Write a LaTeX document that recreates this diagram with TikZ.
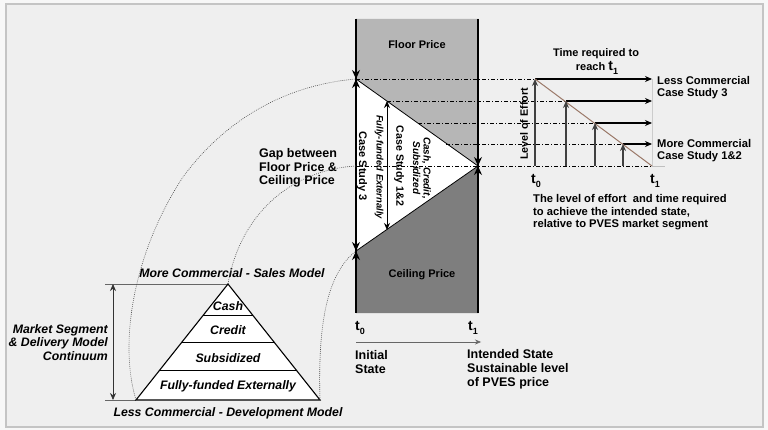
\documentclass[tikz,border=0pt]{standalone}
\usepackage{fontspec}
\setmainfont{Liberation Sans}
\usetikzlibrary{arrows.meta,calc}
\definecolor{bgc}{HTML}{EFEFEF}
\definecolor{outc}{HTML}{F7F7F7}
\definecolor{framec}{HTML}{C4C4C4}
\definecolor{floorc}{HTML}{B6B6B6}
\definecolor{ceilc}{HTML}{7E7E7E}
\definecolor{brownc}{HTML}{9A7868}
\newcommand{\mytsub}[1]{{\fontsize{14}{14}\selectfont t}\raisebox{-0.55ex}{\fontsize{9}{9}\selectfont #1}}
\begin{document}
\begin{tikzpicture}[x=1pt,y=-1pt,
  txt/.style={font=\fontsize{11}{13}\selectfont\bfseries, inner sep=0pt, align=left},
  bigtxt/.style={font=\fontsize{12.5}{14}\selectfont\bfseries, inner sep=0pt, align=left},
  ital/.style={font=\fontsize{12.3}{13.3}\selectfont\bfseries\itshape, inner sep=0pt},
  dashdot/.style={line width=0.6pt, dash pattern=on 4pt off 2pt on 1pt off 2pt},
  dotc/.style={line width=0.6pt, black!70, dash pattern=on 0.8pt off 1.2pt},
  arr/.style={-{Stealth[length=7pt,width=6pt]}},
  bigarr/.style={-{Stealth[length=9pt,width=8pt]}},
  darr/.style={{Stealth[length=7pt,width=6pt]}-{Stealth[length=7pt,width=6pt]}}
]
\useasboundingbox (0,0) rectangle (768,430);
\fill[outc] (0,0) rectangle (768,430);
\draw[fill=bgc, draw=framec, line width=1.2pt] (6,4) rectangle (763,427);

% column coordinates
\coordinate (TL) at (356,19);
\coordinate (TR) at (478,19);
\coordinate (BL) at (356,313);
\coordinate (BR) at (478,313);
\coordinate (V1) at (356,79);
\coordinate (V2) at (478,166);
\coordinate (V3) at (356,251);
\coordinate (H1) at (387,101);
\coordinate (L1) at (387,230);
\coordinate (H2) at (418,123);
\coordinate (H3) at (446,144);
\coordinate (M0) at (356,166);

\fill[floorc] (TL) -- (TR) -- (V2) -- (V1) -- cycle;
\fill[ceilc] (V3) -- (V2) -- (BR) -- (BL) -- cycle;
\fill[white] (V1) -- (V2) -- (V3) -- cycle;
\draw[line width=0.8pt] (V1) -- (V2) -- (V3);

% right small diagram coordinates
\coordinate (P0) at (535,79);
\coordinate (P1) at (566,101);
\coordinate (P2) at (595,123);
\coordinate (P3) at (623,144);
\coordinate (E0) at (652,79);
\coordinate (E1) at (652,101);
\coordinate (E2) at (652,123);
\coordinate (E3) at (652,144);
\coordinate (E4) at (652,166);
\coordinate (E5) at (665,166);
\coordinate (B0) at (535,166);
\coordinate (B1) at (566,166);
\coordinate (B2) at (595,166);
\coordinate (B3) at (623,166);

\draw[dashdot] (V1) -- (P0);
\draw[dashdot] (H1) -- (P1);
\draw[dashdot] (H2) -- (P2);
\draw[dashdot] (H3) -- (P3);
\draw[dashdot] (M0) -- (E4);
\draw[black!25, line width=0.6pt] (E4) -- (E5);
\draw[black!20, line width=0.6pt] (E0) -- (E4);

\draw[line width=1.6pt] (TL) -- (BL);
\draw[line width=1.6pt] (TR) -- (BR);
\draw[bigarr, line width=1pt] (TL) -- (V1);
\draw[bigarr, line width=1pt] (BL) -- (V3);
\draw[bigarr, line width=1pt] (TR) -- (V2);
\draw[bigarr, line width=1pt] (BR) -- (V2);
\draw[{Stealth[length=9pt,width=8pt]}-{Stealth[length=9pt,width=8pt]}, line width=1pt] (V1) -- (V3);
\draw[darr, line width=0.9pt] (H1) -- (L1);

\draw[arr, line width=1.1pt] (P0) -- (E0);
\draw[arr, line width=1.1pt] (P1) -- (E1);
\draw[arr, line width=1.1pt] (P2) -- (E2);
\draw[arr, line width=1.1pt] (P3) -- (E3);
\draw[brownc, line width=1pt] (P0) -- (E4);
\draw[arr, black!75, line width=1.1pt] (B0) -- (P0);
\draw[arr, black!75, line width=1.1pt] (B1) -- (P1);
\draw[arr, black!75, line width=1.1pt] (B2) -- (P2);
\draw[arr, black!75, line width=1.1pt] (B3) -- (P3);

% column texts
\node[txt] (floor) at (417,45) {Floor Price};
\node[txt] (ceil) at (422,275) {Ceiling Price};
\node[txt, rotate=-90] (cs3) at (362,166) {Case Study 3};
\node[inner sep=0pt, rotate=-90, font=\fontsize{9.4}{10}\selectfont\bfseries\itshape] (ffe) at (379,167) {Fully-funded Externally};
\node[inner sep=0pt, rotate=-90, font=\fontsize{10.6}{12}\selectfont\bfseries] (cs12) at (399,166) {Case Study 1\&2};
\node[inner sep=0pt, rotate=-90, align=center, font=\fontsize{10}{10.5}\selectfont\bfseries\itshape] (ccs) at (422,168) {Cash, Credit,\\Subsidized};

% right texts
\node[txt, align=center] (treq) at (596,54) {Time required to};
\node[txt] (reach) at (597,68) {reach \mytsub{1}};
\node[txt, anchor=west, font=\fontsize{11.2}{12.7}\selectfont\bfseries] (lessc) at (657,87.5) {Less Commercial\\Case Study 3};
\node[txt, anchor=west, font=\fontsize{11.2}{12.7}\selectfont\bfseries] (morec) at (657,150.5) {More Commercial\\Case Study 1\&2};
\node[inner sep=0pt, rotate=90, font=\fontsize{10.7}{12}\selectfont\bfseries] (loe) at (524,124) {Level of Effort};
\node[txt] (rt0) at (536,181) {\mytsub{0}};
\node[txt] (rt1) at (655,181) {\mytsub{1}};
\node[txt, anchor=west, font=\fontsize{11.2}{12.5}\selectfont\bfseries] (desc) at (533,212.5) {The level of effort\ \ and time required\\to achieve the intended state,\\relative to PVES market segment};

% bottom texts
\node[txt] (bt0) at (360,328) {\mytsub{0}};
\node[txt] (bt1) at (473,328) {\mytsub{1}};
\coordinate (AX0) at (356,342);
\coordinate (AX1) at (481,342);
\draw[-{Stealth[length=6pt,width=5pt]}, black!60, line width=0.6pt] (AX0) -- (AX1);
\node[bigtxt, anchor=west] (init) at (355,362) {Initial\\State};
\node[bigtxt, anchor=west] (intend) at (467,369) {Intended State\\Sustainable level\\of PVES price};
\node[bigtxt, anchor=west, font=\fontsize{12.5}{13.7}\selectfont\bfseries] (gap) at (259,168) {Gap between\\Floor Price \&\\Ceiling Price};

% pyramid
\coordinate (A) at (228,284);
\coordinate (PL) at (136,400);
\coordinate (PR) at (320,400);
\coordinate (GT) at (105,284);
\coordinate (GB) at (105,400);
\coordinate (DT) at (113,284);
\coordinate (DB) at (113,400);
\draw[black!60, line width=0.6pt] (GT) -- (A);
\draw[black!60, line width=0.6pt] (GB) -- (PL);
\draw[darr, black!80, line width=0.8pt] (DT) -- (DB);
\draw[fill=white, line width=1.1pt] (A) -- (PL) -- (PR) -- cycle;
\draw[line width=0.9pt] ($(A)!0.267!(PL)$) -- ($(A)!0.267!(PR)$);
\draw[line width=0.9pt] ($(A)!0.5!(PL)$) -- ($(A)!0.5!(PR)$);
\draw[line width=0.9pt] ($(A)!0.741!(PL)$) -- ($(A)!0.741!(PR)$);
\node[ital] (cash) at (228,306.5) {Cash};
\node[ital] (credit) at (228,330) {Credit};
\node[ital] (subs) at (228,358) {Subsidized};
\node[ital] (ffe2) at (228,386.5) {Fully-funded Externally};
\node[ital] (moresm) at (232,273) {More Commercial - Sales Model};
\node[ital] (lessdm) at (228,413) {Less Commercial - Development Model};
\node[ital, anchor=east, align=right] (msdm) at (108,342.5) {Market Segment\\\& Delivery Model\\Continuum};

% dotted arcs
\draw[dotc] (PL) .. controls (118,340) and (135,250) .. (183,177) .. controls (225,120) and (285,85) .. (V1);
\draw[dotc] (A) .. controls (240,215) and (290,170) .. (M0);
\draw[dotc] (PR) .. controls (318,330) and (325,275) .. (V3);
\end{tikzpicture}
\end{document}
